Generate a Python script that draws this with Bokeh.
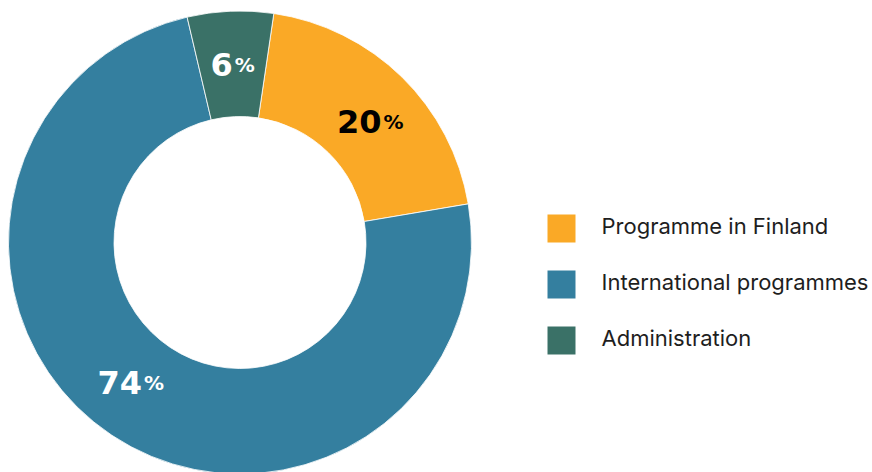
import math
from bokeh.plotting import figure
from bokeh.models import Range1d, ColumnDataSource
from bokeh.core.properties import value
from bokeh.embed import file_html
from bokeh.resources import INLINE

categories = ["Programme in Finland", "International programmes", "Administration"]
shares = [20, 74, 6]
colors = ["#FAA926", "#347F9F", "#3A7167"]
label_colors = ["#000000", "#FFFFFF", "#FFFFFF"]
label_nudge_deg = [2.7, 4.3, 0.0]

W, H = 872, 472
p = figure(width=W, height=H, output_backend="svg", toolbar_location=None,
           x_range=Range1d(0, W), y_range=Range1d(0, H), min_border=0)
p.axis.visible = False
p.grid.visible = False
p.outline_line_color = None
p.background_fill_color = "white"

cx, cy = 239.5, 230.0
r_out, r_in = 231.5, 126.0
offset = math.radians(90 - 8.4)

total = sum(shares)
starts, ends, mids = [], [], []
cum = 0.0
for s in shares:
    a0 = offset - 2 * math.pi * cum / total
    cum += s
    a1 = offset - 2 * math.pi * cum / total
    starts.append(a0)
    ends.append(a1)
    mids.append((a0 + a1) / 2)

src = ColumnDataSource(dict(start=starts, end=ends, color=colors))
p.annular_wedge(x=cx, y=cy, inner_radius=r_in, outer_radius=r_out,
                start_angle="start", end_angle="end", direction="clock",
                fill_color="color", line_color="white", line_width=0.8, source=src)

r_lab = (r_in + r_out) / 2 - 1
lab_ang = [m - math.radians(n) for m, n in zip(mids, label_nudge_deg)]
lx = [cx + r_lab * math.cos(a) for a in lab_ang]
ly = [cy + r_lab * math.sin(a) for a in lab_ang]

# approximate text widths to centre "NN%" as one block
num_size, pct_size, gap = 32, 20, 2
num_w = [len(str(s)) * 0.696 * num_size for s in shares]
pct_w = 1.002 * pct_size
split = [x - (w + gap + pct_w) / 2 + w for x, w in zip(lx, num_w)]

num_src = ColumnDataSource(dict(x=split, y=ly,
                                t=[str(s) for s in shares], c=label_colors))
pct_src = ColumnDataSource(dict(x=[s + gap for s in split], y=ly,
                                t=["%"] * len(shares), c=label_colors))
p.text(x="x", y="y", text="t", text_color="c", source=num_src,
       text_font=value("DejaVu Sans"), text_font_style="bold", text_font_size=f"{num_size}px",
       text_align="right", text_baseline="alphabetic")
p.text(x="x", y="y", text="t", text_color="c", source=pct_src,
       text_font=value("DejaVu Sans"), text_font_style="bold", text_font_size=f"{pct_size}px",
       text_align="left", text_baseline="alphabetic")

# legend
leg_y = [244 - 56 * i for i in range(len(categories))]
p.rect(x=[561] * len(categories), y=leg_y, width=28, height=28,
       fill_color=colors, line_color=None)
p.text(x=[601] * len(categories), y=[y + 3 for y in leg_y], text=categories,
       text_font=value("Inter"), text_font_size="22px", text_color="#1E1E1E",
       text_align="left", text_baseline="alphabetic")

open("out.html", "w").write(file_html(p, INLINE))
